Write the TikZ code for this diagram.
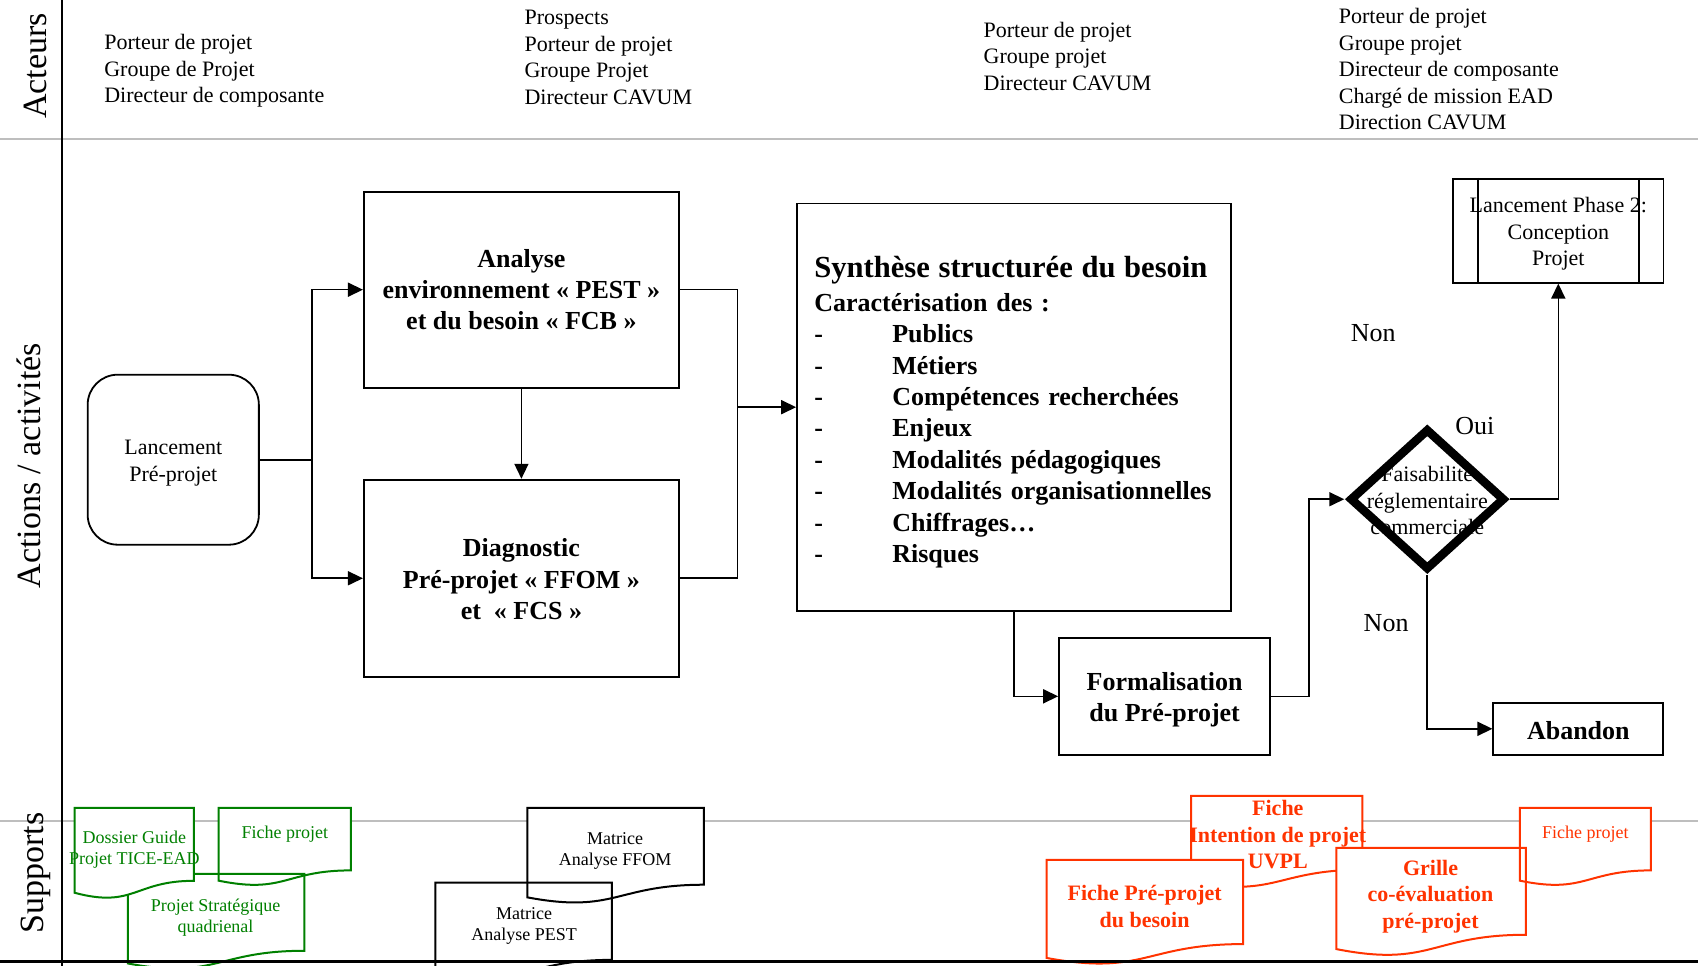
\documentclass[tikz,border=0pt]{standalone}
\usepackage{fontspec}
\setmainfont{Liberation Serif}
\usetikzlibrary{arrows.meta,shapes.geometric}
\definecolor{docgreen}{RGB}{0,128,0}
\definecolor{docred}{RGB}{255,51,0}
\definecolor{lanegray}{RGB}{190,190,190}
% #1 left, #2 top, #3 right, #4 height, #5 style
\newcommand\docpath[5]{%
  \path[#5] (#1,#2) -- (#3,#2) -- (#3,{#2+0.802*#4})
    .. controls ({(#1+#3)/2},{#2+0.802*#4}) and ({(#1+#3)/2},{#2+1.107*#4}) ..
    (#1,{#2+0.934*#4}) -- cycle;}
\begin{document}
\begin{tikzpicture}[x=0.5415pt,y=-0.5415pt,
  box/.style={draw, line width=0.9pt, inner sep=0pt, align=center},
  btxt/.style={font=\fontsize{13}{15.7}\selectfont\bfseries},
  rtxt/.style={font=\fontsize{11}{13.3}\selectfont},
  arr/.style={line width=0.8pt, -{Triangle[length=7.5pt,width=7pt]}},
  conn/.style={line width=0.8pt},
  actors/.style={anchor=west, align=left, inner sep=0pt, font=\fontsize{11}{13.3}\selectfont},
  lanelabel/.style={rotate=90, inner sep=0pt, font=\fontsize{17}{20}\selectfont},
  doctxt/.style={align=center, inner sep=0pt, font=\fontsize{9}{10.6}\selectfont},
  reddoctxt/.style={align=center, inner sep=0pt, text=docred, font=\fontsize{11}{13.3}\selectfont\bfseries},
  yn/.style={inner sep=0pt, font=\fontsize{13}{15}\selectfont},
  gdoc/.style={draw=docgreen, line width=1pt},
  kdoc/.style={draw=black, line width=1pt},
  rdoc/.style={draw=docred, line width=1pt},
  wfill/.style={fill=white}
]
\clip (0,0) rectangle (1568,892);
\fill[white] (0,0) rectangle (1568,892);

% lanes
\draw[lanegray, line width=1.1pt] (0,128) -- (1568,128);
\draw[lanegray, line width=1.1pt] (0,758) -- (1568,758);

% lane labels
\node[lanelabel] (lblact) at (33,61) {Acteurs};
\node[lanelabel] (lblaction) at (27,430) {Actions / activités};
\node[lanelabel] (lblsup) at (33,806) {Supports};

% actors
\node[actors] (act1) at (96,65.5) {Porteur de projet\\Groupe de Projet\\Directeur de composante};
\node[actors] (act2) at (484,53) {Prospects\\Porteur de projet\\Groupe Projet\\Directeur CAVUM};
\node[actors] (act3) at (908,52) {Porteur de projet\\Groupe projet\\Directeur CAVUM};
\node[actors] (act4) at (1236,64) {Porteur de projet\\Groupe projet\\Directeur de composante\\Chargé de mission EAD\\Direction CAVUM};

% process boxes
\node[box, rtxt, rounded corners=15pt, minimum width=85.6pt, minimum height=85pt] (lanc) at (160,424.5) {\rule{0pt}{10.7pt}Lancement\\Pré-projet};
\node[box, btxt, minimum width=157.6pt, minimum height=98pt] (ana) at (481.5,267.5) {Analyse\\environnement «~PEST~»\\et du besoin «~FCB~»};
\node[box, btxt, minimum width=157.6pt, minimum height=98.6pt] (diag) at (481.5,534) {\rule{0pt}{10pt}Diagnostic\\Pré-projet «~FFOM~»\\et\ \ «~FCS~»};
\node[box, btxt, minimum width=217.1pt, minimum height=203.6pt, text width=199.8pt, align=left] (synth) at (936.5,376)
 {{\fontsize{15.3}{16.8}\selectfont\rule{0pt}{15.5pt}Synthèse structurée du besoin}\\[1.2pt]
  Caractérisation des :\\
  \makebox[39pt][l]{-}Publics\\
  \makebox[39pt][l]{-}Métiers\\
  \makebox[39pt][l]{-}Compétences recherchées\\
  \makebox[39pt][l]{-}Enjeux\\
  \makebox[39pt][l]{-}Modalités pédagogiques\\
  \makebox[39pt][l]{-}Modalités organisationnelles\\
  \makebox[39pt][l]{-}Chiffrages…\\
  \makebox[39pt][l]{-}Risques};
\node[box, btxt, minimum width=105.6pt, minimum height=58.5pt] (form) at (1075.5,643) {\rule{0pt}{12.7pt}Formalisation\\du Pré-projet};
\node[box, btxt, minimum width=85pt, minimum height=26pt] (aband) at (1457.5,673) {\rule{0pt}{11.1pt}Abandon};
\node[box, rtxt, minimum width=105.1pt, minimum height=52pt] (ph2) at (1439,213) {\rule{0pt}{10.7pt}Lancement Phase 2:\\Conception\\Projet};
\draw[line width=0.9pt] ([xshift=13pt]ph2.north west) -- ([xshift=13pt]ph2.south west);
\draw[line width=0.9pt] ([xshift=-12.5pt]ph2.north east) -- ([xshift=-12.5pt]ph2.south east);

% decision
\node[rtxt, align=center, inner sep=0pt] (diatxt) at (1318,462.5) {Faisabilité\\réglementaire\\commerciale};
\node[diamond, draw, line width=4.3pt, minimum width=78pt, minimum height=71pt, inner sep=0pt, outer sep=2.5pt] (dia) at (1318,461) {};

\node[yn] (non1) at (1268,308) {Non};
\node[yn] (oui) at (1362,393) {Oui};
\node[yn] (non2) at (1280,575) {Non};

% connectors
\coordinate (j1) at (288,424.5);
\draw[conn] (lanc.east) -- (j1);
\draw[arr] (j1) |- (ana.west);
\draw[arr] (j1) |- (diag.west);
\draw[arr] (ana.south) -- (diag.north);
\coordinate (j2) at (681,376);
\draw[conn] (ana.east) -| (j2);
\draw[conn] (diag.east) -| (j2);
\draw[arr] (j2) -- (synth.west);
\draw[arr] (synth.south) |- (form.west);
\coordinate (j3) at (1209,643);
\draw[arr] (form.east) -- (j3) |- (dia.west);
\draw[arr] (dia.east) -| (ph2.south);
\draw[arr] (dia.south) |- (aband.west);

% supports: green
\docpath{118}{807}{281}{88.5}{wfill}
\docpath{202}{746}{324}{72}{wfill}
\docpath{118}{807}{281}{88.5}{gdoc}
\docpath{202}{746}{324}{72}{gdoc}
\docpath{69}{746}{179}{84}{gdoc,wfill}
% supports: black
\docpath{487}{746}{650}{88.5}{wfill}
\docpath{402}{815}{565}{89}{wfill}
\docpath{487}{746}{650}{88.5}{kdoc}
\docpath{402}{815}{565}{89}{kdoc}
% supports: red
\docpath{1100}{735}{1258}{85}{rdoc,wfill}
\docpath{966.5}{794}{1148}{97}{rdoc,wfill}
\docpath{1234}{783}{1409}{100}{wfill}
\docpath{1403.5}{746}{1524.5}{72}{wfill}
\docpath{1234}{783}{1409}{100}{rdoc}
\docpath{1403.5}{746}{1524.5}{72}{rdoc}

% supports texts
\node[doctxt, text=docgreen] (tdg) at (124,784.5) {Dossier Guide\\Projet TICE-EAD};
\node[doctxt, text=docgreen] (tfpg) at (263,770) {Fiche projet};
\node[doctxt, text=docgreen] (tps) at (199,847.5) {Projet Stratégique\\quadrienal};
\node[doctxt] (tffom) at (568,786) {Matrice\\Analyse FFOM};
\node[doctxt] (tpest) at (484,855) {Matrice\\Analyse PEST};
\node[reddoctxt] (tint) at (1180,771) {Fiche\\Intention de projet\\UVPL};
\node[reddoctxt] (tfpp) at (1057,837) {Fiche Pré-projet\\du besoin};
\node[reddoctxt] (tgr) at (1321,828) {Grille\\co-évaluation\\pré-projet};
\node[doctxt, text=docred] (tfpr) at (1464,770) {Fiche projet};

% frame lines
\draw[line width=0.8pt] (57,0) -- (57,892);
\draw[line width=1.3pt] (0,888) -- (1568,888);
\end{tikzpicture}
\end{document}
